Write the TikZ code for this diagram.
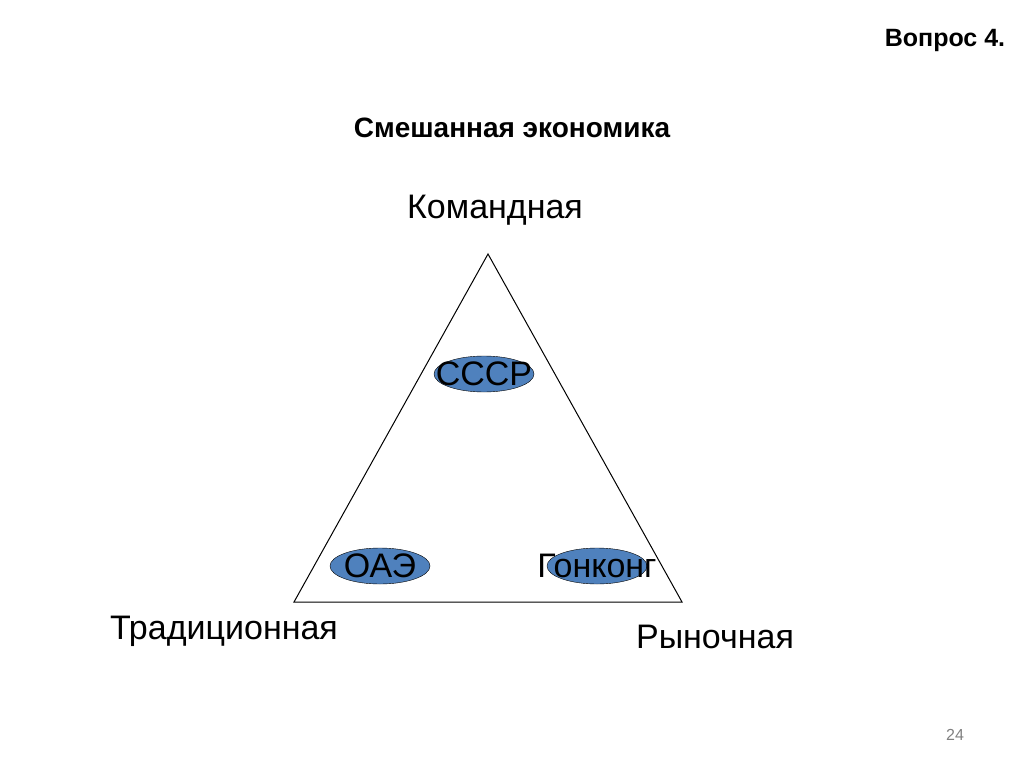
\documentclass[tikz,border=0pt]{standalone}
\usepackage{fontspec}
\setmainfont{Liberation Sans}
\usetikzlibrary{shapes.geometric}
\definecolor{ellfill}{RGB}{79,129,189}
\begin{document}
\begin{tikzpicture}[x=1pt,y=-1pt,
  lbl/.style={font=\fontsize{34}{40}\selectfont},
  ell/.style={ellipse,draw=black,fill=ellfill,minimum width=100pt,minimum height=36pt,inner sep=0pt}]
\useasboundingbox (0,0) rectangle (1024,767);
\coordinate (A) at (488,254);
\coordinate (B) at (294,602);
\coordinate (C) at (682,602);
\draw[line width=1pt] (A) -- (B) -- (C) -- cycle;
\node[ell] (s) at (484,374) {};
\node[ell] (o) at (380,566) {};
\node[ell] (g) at (597,566) {};
\node[lbl] at (s) {СССР};
\node[lbl] at (o) {ОАЭ};
\node[lbl] at (g) {Гонконг};
\node[lbl] (k) at (495,210) {Командная};
\node[lbl] (t) at (224,631) {Традиционная};
\node[lbl] (r) at (715,637) {Рыночная};
\node[font=\bfseries\fontsize{28}{33}\selectfont] (h) at (512,128) {Смешанная экономика};
\node[font=\bfseries\fontsize{25}{30}\selectfont] (v) at (945,40) {Вопрос 4.};
\node[text=gray,font=\fontsize{16}{19}\selectfont] (n) at (955,735) {24};
\end{tikzpicture}
\end{document}
